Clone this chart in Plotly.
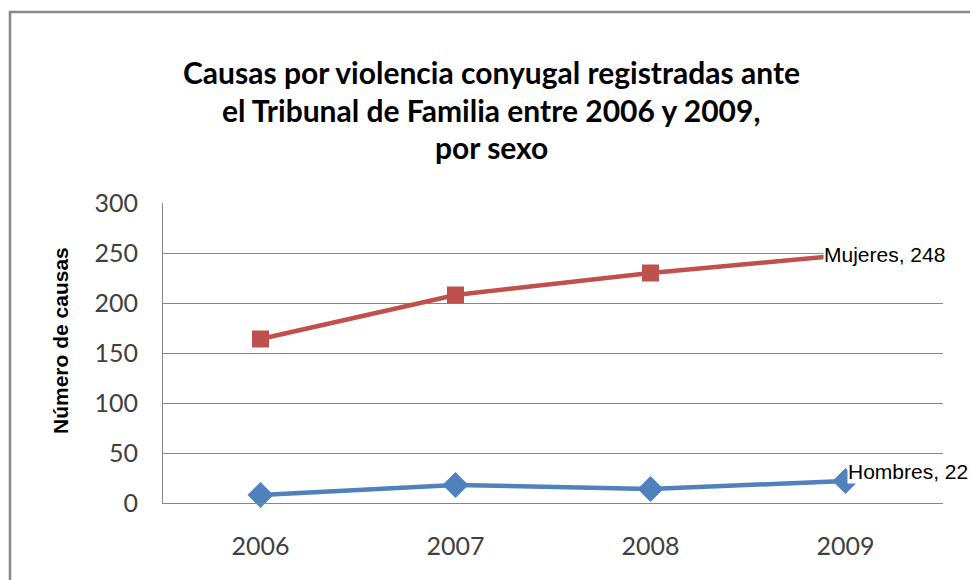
import plotly.graph_objects as go

years = ["2006", "2007", "2008", "2009"]
mujeres = [164, 208, 230, 248]
hombres = [8, 18, 14, 22]
series_names = ["Hombres", "Mujeres"]
title_lines = ["Causas por violencia conyugal registradas ante",
               "el Tribunal de Familia entre 2006 y 2009,",
               "por sexo"]
y_title = "Número de causas"
y_ticks = [0, 50, 100, 150, 200, 250, 300]

W, H = 970, 580
L, R, T, B = 163, 27, 203, 77
pw, ph = W - L - R, H - T - B

def px_x(px):
    return (px - L) / pw

def px_y(py):
    return (H - B - py) / ph

BLUE = "#4F81BD"
RED = "#C0504D"
TICKFONT = dict(family="Lato, Carlito, Calibri, sans-serif", size=25, color="#404040")
LABELFONT = dict(family="Liberation Sans, Arial, sans-serif", size=21, color="#000000")

fig = go.Figure()
fig.add_trace(go.Scatter(
    x=years, y=hombres, name=series_names[0], mode="lines+markers",
    line=dict(color=BLUE, width=4.5),
    marker=dict(symbol="diamond", size=20, color=BLUE),
    cliponaxis=False,
))
fig.add_trace(go.Scatter(
    x=years, y=mujeres, name=series_names[1], mode="lines+markers",
    line=dict(color=RED, width=4.5),
    marker=dict(symbol="square", size=17, color=RED),
    cliponaxis=False,
))

last = len(years) - 1
annotations = []
# data labels at last point
annotations.append(dict(
    x=last, y=mujeres[-1], xref="x", yref="y",
    text=f"{series_names[1]}, {mujeres[-1]}", showarrow=False,
    xanchor="left", yanchor="middle", xshift=-23, yshift=1,
    font=LABELFONT, bgcolor="#FFFFFF", borderpad=0,
))
annotations.append(dict(
    x=last, y=hombres[-1], xref="x", yref="y",
    text=f"{series_names[0]}, {hombres[-1]}", showarrow=False,
    xanchor="left", yanchor="middle", xshift=1, yshift=10,
    font=LABELFONT, bgcolor="#FFFFFF", borderpad=0,
))
# title lines
for line, py in zip(title_lines, [72, 110, 147]):
    annotations.append(dict(
        x=px_x(491), y=px_y(py), xref="paper", yref="paper",
        text=f"<b>{line}</b>", showarrow=False,
        xanchor="center", yanchor="middle",
        font=dict(family="Lato, Carlito, Calibri, sans-serif", size=30, color="#000000"),
    ))
# y axis title
annotations.append(dict(
    x=px_x(60), y=px_y(341), xref="paper", yref="paper",
    text=f"<b>{y_title}</b>", showarrow=False, textangle=-90,
    xanchor="center", yanchor="middle",
    font=dict(family="Liberation Sans, Arial, sans-serif", size=21, color="#000000"),
))

fig.update_layout(
    width=W, height=H,
    margin=dict(l=L, r=R, t=T, b=B, autoexpand=False),
    paper_bgcolor="#FFFFFF", plot_bgcolor="#FFFFFF",
    showlegend=False,
    annotations=annotations,
    shapes=[dict(type="rect", xref="paper", yref="paper",
                 x0=px_x(10), x1=px_x(990), y0=px_y(600), y1=px_y(12),
                 line=dict(color="#878787", width=2.5), fillcolor="rgba(0,0,0,0)",
                 layer="below")],
    xaxis=dict(type="category", range=[-0.5, 3.5], showgrid=False,
               showline=True, linecolor="#868686", linewidth=1,
               ticks="", tickfont=TICKFONT, ticklabelstandoff=21,
               zeroline=False, fixedrange=True),
    yaxis=dict(range=[0, 300], tickvals=y_ticks, showgrid=True,
               gridcolor="#868686", gridwidth=1,
               showline=True, linecolor="#868686", linewidth=1,
               ticks="", tickfont=TICKFONT, ticklabelstandoff=19,
               zeroline=False, fixedrange=True),
)

fig.write_html("out.html", config={"displayModeBar": False},
               post_script="document.body.style.margin='0px';document.body.style.overflow='hidden';")
